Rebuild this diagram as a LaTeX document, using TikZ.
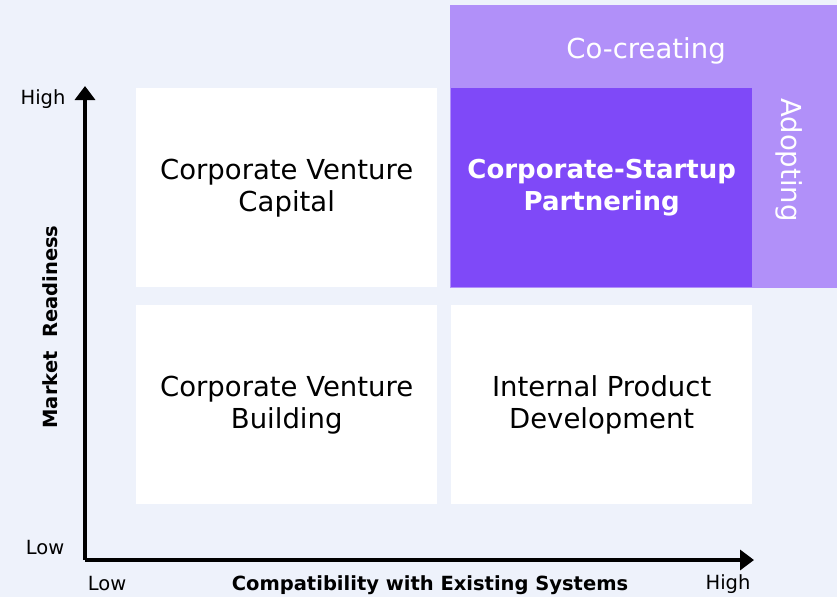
\documentclass[tikz,border=0pt]{standalone}
\usepackage{fontspec}
\setmainfont{DejaVu Sans}
\usetikzlibrary{positioning, arrows.meta}
\definecolor{bgblue}{HTML}{EEF2FB}
\definecolor{lightpurple}{HTML}{B190F9}
\definecolor{darkpurple}{HTML}{7F49F8}

\begin{document}
\begin{tikzpicture}[
                x=1pt, y=-1pt,
                >={Triangle[width=20pt,length=14pt]},
                axis/.style={line width=4pt, ->},
                cell/.style={rectangle, fill=white, minimum width=301pt, minimum height=199pt, inner sep=0pt, align=center, font=\fontsize{27.5}{32}\selectfont},
                band/.style={rectangle, fill=lightpurple, inner sep=0pt},
                tick/.style={font=\fontsize{19.5}{24}\selectfont, inner sep=0pt},
                axislabel/.style={font=\bfseries\fontsize{19.5}{24}\selectfont, inner sep=0pt},
            ]
                % Background
                \fill[bgblue] (0,0) rectangle (837,597);
                \useasboundingbox (0,0) rectangle (837,597);

                % Draw the light purple bands
                \node[band, minimum width=387pt, minimum height=283pt, anchor=north west] (band) at (450,5) {};
                \node[font=\fontsize{27.5}{32}\selectfont, text=white] (cocreating) at (646,51) {Co-creating};
                \node[font=\fontsize{27.5}{32}\selectfont, text=white, rotate=-90] (adopting) at (789,160) {Adopting};

                % Draw the four quadrants
                \node[cell, anchor=north west] (CVC) at (136,88) {Corporate Venture\\Capital};
                \node[cell, anchor=north west, fill=darkpurple, text=white, font=\bfseries\fontsize{26}{32}\selectfont] (CSP) at (451,88) {Corporate-Startup\\Partnering};
                \node[cell, anchor=north west] (CVB) at (136,305) {Corporate Venture\\Building};
                \node[cell, anchor=north west] (IPD) at (451,305) {Internal Product\\Development};

                % Draw the axes
                \coordinate (origin) at (85,560);
                \coordinate (ytop) at (85,86);
                \coordinate (xend) at (754,560);
                \draw[axis] (origin) -- (ytop);
                \draw[axis] (origin) -- (xend);

                % Axis labels
                \node[tick] (yhigh) at (43,99) {High};
                \node[tick] (ylow) at (45,548) {Low};
                \node[tick] (xlow) at (107,584) {Low};
                \node[tick] (xhigh) at (728,584) {High};
                \node[axislabel] (xlabel) at (430,585) {Compatibility with Existing Systems};
                \node[axislabel, rotate=90] (ylabel) at (50,327) {Market\ \ Readiness};
            \end{tikzpicture}
\end{document}
